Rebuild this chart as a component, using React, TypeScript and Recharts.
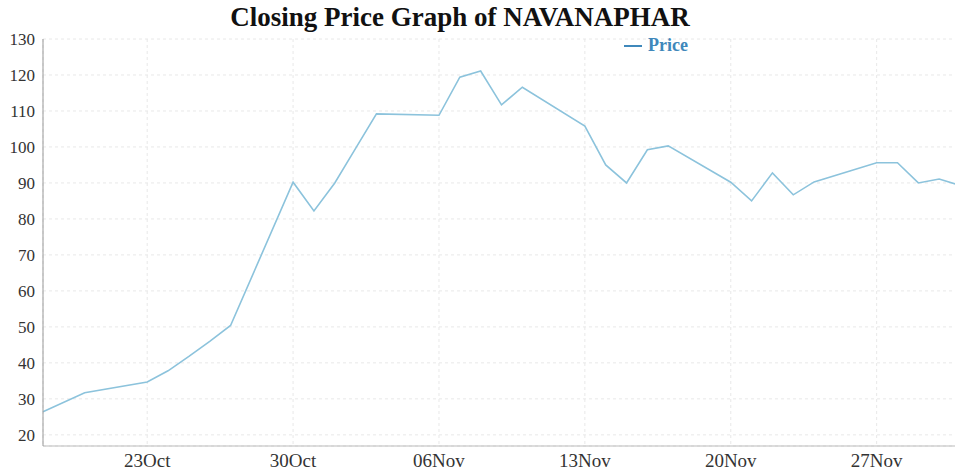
import { LineChart, Line, XAxis, YAxis, CartesianGrid } from 'recharts';

document.body.style.margin = '0';

// trading days (2017) and closing prices
const dates = [
    '2017-10-18', '2017-10-20', '2017-10-23', '2017-10-24', '2017-10-25', '2017-10-26', '2017-10-27',
    '2017-10-30', '2017-10-31', '2017-11-01', '2017-11-02', '2017-11-03',
    '2017-11-06', '2017-11-07', '2017-11-08', '2017-11-09', '2017-11-10',
    '2017-11-13', '2017-11-14', '2017-11-15', '2017-11-16', '2017-11-17',
    '2017-11-20', '2017-11-21', '2017-11-22', '2017-11-23', '2017-11-24',
    '2017-11-27', '2017-11-28', '2017-11-29', '2017-11-30', '2017-12-01',
];
const prices = [
    26.4, 31.7, 34.7, 37.8, 41.8, 46.0, 50.4,
    90.2, 82.2, 90.0, 99.6, 109.2,
    108.8, 119.4, 121.1, 111.7, 116.6,
    105.8, 95.0, 90.0, 99.2, 100.3,
    90.2, 85.0, 92.8, 86.7, 90.3,
    95.6, 95.6, 90.0, 91.1, 89.3,
];
const xTickDates = ['2017-10-23', '2017-10-30', '2017-11-06', '2017-11-13', '2017-11-20', '2017-11-27'];
const yTicks = [20, 30, 40, 50, 60, 70, 80, 90, 100, 110, 120, 130];

const MONTHS = ['Jan', 'Feb', 'Mar', 'Apr', 'May', 'Jun', 'Jul', 'Aug', 'Sep', 'Oct', 'Nov', 'Dec'];
const toTs = (s: string) => Date.parse(s + 'T00:00:00Z');
const fmtDate = (ts: number) => {
    const d = new Date(ts);
    return String(d.getUTCDate()).padStart(2, '0') + MONTHS[d.getUTCMonth()];
};

const data = dates.map((d, i) => ({ date: toTs(d), price: prices[i] }));
const xTicks = xTickDates.map(toTs);

const serif = '"Liberation Serif", "DejaVu Serif", serif';

export default function App() {
    return (
        <div style={{ position: 'relative', width: 955, height: 470, overflow: 'hidden', background: '#fff' }}>
            <div
                style={{
                    position: 'absolute',
                    top: 2,
                    left: 0,
                    width: 920,
                    textAlign: 'center',
                    fontFamily: serif,
                    fontWeight: 'bold',
                    fontSize: 27,
                    color: '#111',
                    zIndex: 1,
                }}
            >
                Closing Price Graph of NAVANAPHAR
            </div>
            {/* legend */}
            <div
                style={{
                    position: 'absolute',
                    top: 35,
                    left: 624,
                    display: 'flex',
                    alignItems: 'center',
                    fontFamily: serif,
                    fontWeight: 'bold',
                    fontSize: 18,
                    color: '#3f88bb',
                    zIndex: 1,
                }}
            >
                <span style={{ display: 'inline-block', width: 18, height: 2, background: '#3f88bb', marginRight: 6 }} />
                Price
            </div>
            <LineChart width={960} height={470} data={data} margin={{ top: 39, right: 0, left: 0, bottom: 0 }}>
                <CartesianGrid strokeDasharray="3 3" stroke="#e8e8e8" />
                <XAxis
                    dataKey="date"
                    type="number"
                    domain={[toTs('2017-10-18'), toTs('2017-12-01')]}
                    ticks={xTicks}
                    tickFormatter={fmtDate}
                    height={24}
                    tickLine={false}
                    axisLine={{ stroke: '#bbbbbb' }}
                    tick={{ fill: '#333', fontSize: 19, fontFamily: serif }}
                />
                <YAxis
                    domain={[16.9, 130]}
                    ticks={yTicks}
                    width={43}
                    tickLine={false}
                    axisLine={{ stroke: '#999999' }}
                    tick={{ fill: '#333', fontSize: 17, fontFamily: serif }}
                    allowDataOverflow
                />
                <Line
                    type="linear"
                    dataKey="price"
                    name="Price"
                    stroke="#8cc3dc"
                    strokeWidth={1.6}
                    dot={false}
                    isAnimationActive={false}
                />
            </LineChart>
        </div>
    );
}
